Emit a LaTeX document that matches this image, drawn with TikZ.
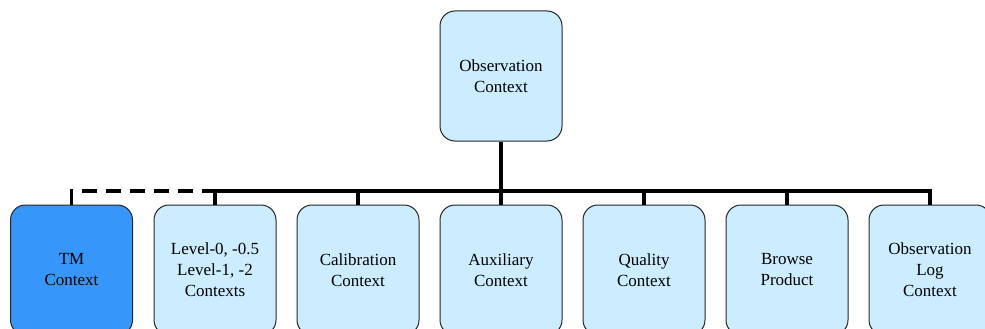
\documentclass[tikz,border=0pt]{standalone}
\usepackage{fontspec}
\setmainfont{Liberation Serif}
\definecolor{ctxblue}{RGB}{204,236,255}
\definecolor{tmblue}{RGB}{55,150,250}
\tikzset{
  ctx/.style={draw=black!85, line width=1pt, fill=ctxblue, rounded corners=15pt,
    minimum width=122pt, minimum height=130pt, align=center,
    font=\rmfamily\fontsize{17pt}{21pt}\selectfont},
  bus/.style={line width=3.5pt}
}
\begin{document}
\begin{tikzpicture}[x=1pt, y=1pt]
	\useasboundingbox (0,0) rectangle (985,-329);
	\clip (0,0) rectangle (985,-329);
	\node [ctx] (obs) at (501,-76) {Observation\\Context};
	\node [ctx, fill=tmblue] (tm) at (71.5,-270) {TM\\Context};
	\node [ctx] (lvl) at (215,-270) {Level-0, -0.5\\Level-1, -2\\Contexts};
	\node [ctx] (cal) at (358,-270) {Calibration\\Context};
	\node [ctx] (aux) at (501,-270) {Auxiliary\\Context};
	\node [ctx] (qual) at (644,-270) {Quality\\Context};
	\node [ctx] (brow) at (787,-270) {Browse\\Product};
	\node [ctx] (olog) at (930,-270) {Observation\\Log\\Context};
	\coordinate (bus) at (501,-191);
	\draw [bus] (obs) -- (bus);
	\draw [bus] (lvl.north) |- (bus) -| (olog.north);
	\foreach \n in {cal,aux,qual,brow}
		\draw [bus] (\n.north) -- (\n.north |- bus);
	\draw [bus, dash pattern=on 15pt off 9pt] (tm.north) |- (lvl.north |- bus);
\end{tikzpicture}
\end{document}
